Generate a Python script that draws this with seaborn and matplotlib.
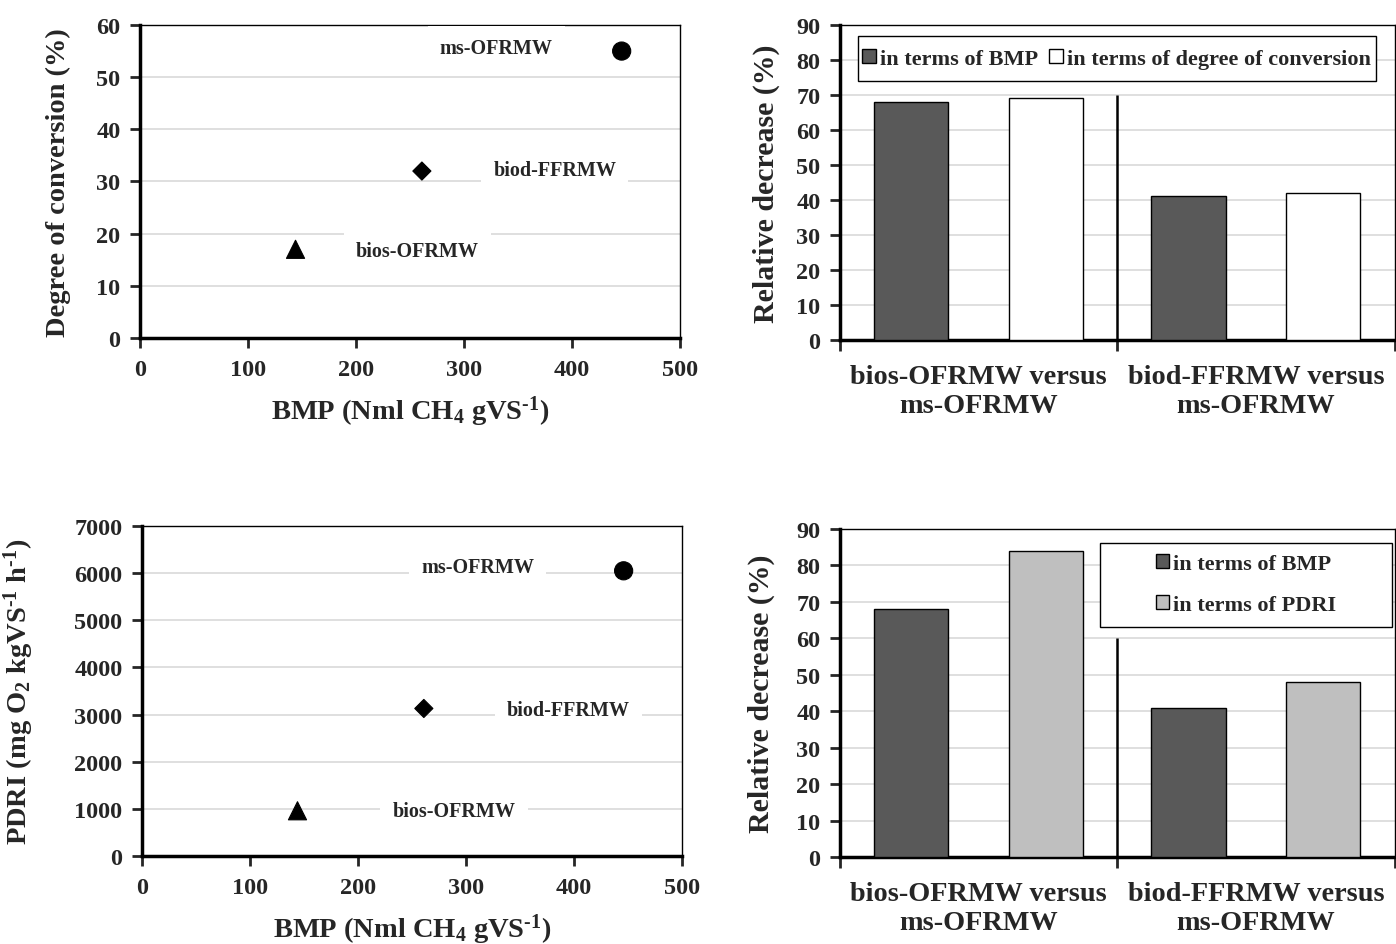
import matplotlib
matplotlib.use("Agg")
import matplotlib.pyplot as plt
from matplotlib.patches import Patch, Rectangle
import seaborn as sns
import pandas as pd

# ---------------- data ----------------
samples = ["ms-OFRMW", "biod-FFRMW", "bios-OFRMW"]
bmp = [446, 261, 144]
conversion = [55, 32, 17]
pdri = [6050, 3130, 960]

comparisons = ["bios-OFRMW versus\nms-OFRMW", "biod-FFRMW versus\nms-OFRMW"]
dec_bmp = [68, 41]
dec_conv = [69, 42]
dec_pdri = [84, 48]

conv_ticks = [0, 10, 20, 30, 40, 50, 60]
pdri_ticks = [0, 1000, 2000, 3000, 4000, 5000, 6000, 7000]
bmp_ticks = [0, 100, 200, 300, 400, 500]
dec_ticks = [0, 10, 20, 30, 40, 50, 60, 70, 80, 90]

# ---------------- style ----------------
sns.set_style("white")
plt.rcParams["font.family"] = ["Liberation Serif", "DejaVu Serif"]
plt.rcParams["font.weight"] = "bold"
plt.rcParams["axes.labelweight"] = "bold"
plt.rcParams["mathtext.fontset"] = "custom"
plt.rcParams["mathtext.rm"] = "Liberation Serif:bold"
plt.rcParams["mathtext.it"] = "Liberation Serif:bold"
plt.rcParams["mathtext.bf"] = "Liberation Serif:bold"
plt.rcParams["mathtext.default"] = "rm"

DARK = "#595959"
LIGHT = "#BFBFBF"
GRID = "#D9D9D9"
TICK_FS = 17.5
LABEL_FS = 20.5
REL_FS = 21.5
CAT_FS = 20.3
ANN_FS = 14.5
LEG_FS = 16

fig = plt.figure(figsize=(13.96, 9.45), dpi=100)

def style_axes(ax):
    ax.set_axisbelow(True)
    for s in ["left", "bottom"]:
        ax.spines[s].set_linewidth(2.5)
        ax.spines[s].set_color("black")
    for s in ["top", "right"]:
        ax.spines[s].set_linewidth(1.0)
        ax.spines[s].set_color("black")
    ax.yaxis.grid(True, color=GRID, linewidth=1.2)
    ax.xaxis.grid(False)
    ax.tick_params(axis="y", which="major", direction="out", length=7, width=2,
                   labelsize=TICK_FS, pad=7, left=True)

markers = {"ms-OFRMW": "o", "biod-FFRMW": "D", "bios-OFRMW": "^"}
msizes = {"ms-OFRMW": 170, "biod-FFRMW": 85, "bios-OFRMW": 170}
SUP = r"$^{\text{-}1}$"

def scatter_panel(rect, yvals, yticks, ylabel, text_pos, ylabel_x):
    ax = fig.add_axes(rect)
    style_axes(ax)
    df = pd.DataFrame({"BMP": bmp, "Y": yvals, "Sample": samples})
    sns.scatterplot(data=df, x="BMP", y="Y", style="Sample", markers=markers,
                    size="Sample", sizes=msizes, color="black", edgecolor="black",
                    legend=False, ax=ax, zorder=3)
    ax.set_xlim(0, 500)
    ax.set_ylim(yticks[0], yticks[-1])
    ax.set_xticks(bmp_ticks)
    ax.set_yticks(yticks)
    ax.tick_params(axis="x", which="major", direction="out", length=7, width=2,
                   labelsize=TICK_FS, pad=8, bottom=True)
    for lab, (tx, ty) in zip(samples, text_pos):
        ax.text(tx, ty, lab, ha="center", va="center", fontsize=ANN_FS,
                fontweight="bold", zorder=4,
                bbox=dict(boxstyle="square,pad=0.6", fc="white", ec="none"))
    ax.set_xlabel(r"BMP (Nml CH$_4$ gVS" + SUP + ")", fontsize=LABEL_FS, labelpad=10)
    ax.set_ylabel(ylabel, fontsize=LABEL_FS)
    ax.yaxis.set_label_coords(ylabel_x, 0.5)
    return ax

def bar_panel(rect, second_vals, second_name, second_color, legend_rect, ncol,
              sep_top, ylabel_x, leg_dy):
    ax = fig.add_axes(rect)
    style_axes(ax)
    df = pd.DataFrame({
        "Comparison": comparisons * 2,
        "Measure": ["in terms of BMP"] * 2 + [second_name] * 2,
        "Value": dec_bmp + second_vals,
    })
    sns.barplot(data=df, x="Comparison", y="Value", hue="Measure",
                palette=[DARK, second_color], width=0.972, gap=0.45,
                edgecolor="black", linewidth=1.0, legend=False, ax=ax,
                saturation=1, zorder=3)
    ax.set_xlim(-0.5, 1.5)
    ax.set_ylim(0, 90)
    ax.set_yticks(dec_ticks)
    ax.set_xticks([0, 1])
    ax.set_xticklabels(comparisons, fontsize=CAT_FS, fontweight="bold",
                       linespacing=1.22)
    ax.tick_params(axis="x", which="major", length=0, pad=17)
    ax.set_xticks([-0.5, 0.5, 1.5], minor=True)
    ax.tick_params(axis="x", which="minor", direction="out", length=8, width=2,
                   bottom=True)
    ax.plot([0.5, 0.5], [0, sep_top], color="black", lw=1.8, zorder=4,
            solid_capstyle="butt")
    ax.set_xlabel("")
    ax.set_ylabel("Relative decrease (%)", fontsize=REL_FS)
    ax.yaxis.set_label_coords(ylabel_x, 0.5)
    # legend box
    x0, y0, w, h = legend_rect
    ax.add_patch(Rectangle((x0, y0), w, h, transform=ax.transAxes, fc="white",
                           ec="black", lw=1.0, zorder=6, clip_on=False))
    handles = [Patch(facecolor=DARK, edgecolor="black", lw=1.0, label="in terms of BMP"),
               Patch(facecolor=second_color, edgecolor="black", lw=1.0, label=second_name)]
    leg = ax.legend(handles=handles, loc="center",
                    bbox_to_anchor=(x0 + w / 2, y0 + h / 2 + leg_dy), ncol=ncol,
                    frameon=False, fontsize=LEG_FS, handlelength=0.6,
                    handleheight=0.6, handletextpad=0.2, columnspacing=0.5,
                    labelspacing=0.95, borderaxespad=0)
    leg.set_zorder(7)
    for t in leg.get_texts():
        t.set_fontweight("bold")
    return ax

# top-left
scatter_panel([0.1003, 0.6413, 0.3868, 0.3312], conversion, conv_ticks,
              "Degree of conversion (%)",
              [(330, 55.6), (384, 32.2), (257, 16.7)], -0.128)
# bottom-left
scatter_panel([0.1017, 0.0931, 0.3868, 0.3492], pdri, pdri_ticks,
              r"PDRI (mg O$_2$ kgVS" + SUP + " h" + SUP + ")",
              [(311, 6130), (395, 3097), (289, 955)], -0.196)
# top-right
bar_panel([0.6017, 0.6392, 0.3973, 0.3333], dec_conv,
          "in terms of degree of conversion", "white",
          (0.032, 0.822, 0.934, 0.143), 2, 70, -0.108, 0.0)
# bottom-right
bar_panel([0.6017, 0.0921, 0.3973, 0.3471], dec_pdri, "in terms of PDRI", LIGHT,
          (0.469, 0.701, 0.526, 0.256), 1, 60, -0.118, 0.003)

fig.savefig("out.png", dpi=100)
